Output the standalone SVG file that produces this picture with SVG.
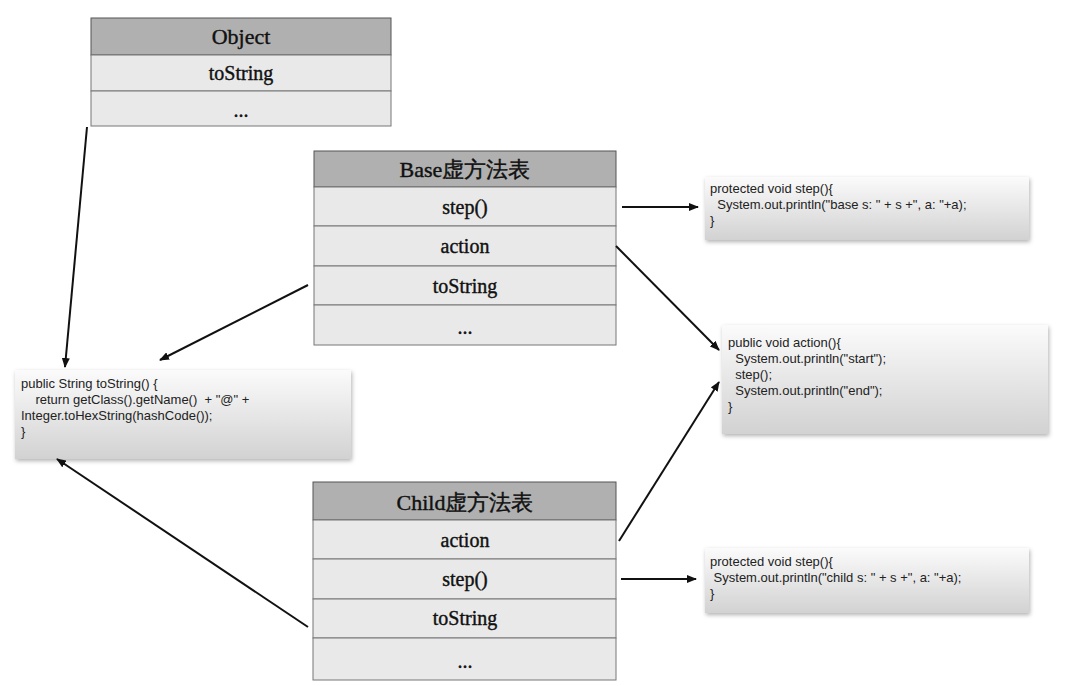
<svg xmlns="http://www.w3.org/2000/svg" width="1081" height="686" viewBox="0 0 1081 686">
<defs>
<linearGradient id="g" x1="0" y1="0" x2="0" y2="1"><stop offset="0" stop-color="#fbfbfb"/><stop offset="1" stop-color="#d2d2d2"/></linearGradient>
<filter id="sh" x="-5%" y="-10%" width="115%" height="130%"><feDropShadow dx="1" dy="2" stdDeviation="2" flood-color="#000" flood-opacity="0.3"/></filter>
<marker id="a" markerWidth="10" markerHeight="8" refX="9" refY="4" orient="auto" markerUnits="userSpaceOnUse"><path d="M0,0 L10,4 L0,8z" fill="#111"/></marker>
</defs>
<style>
.h{fill:#b0b0b0;stroke:#555;stroke-width:1}
.r{fill:#e9e9e9;stroke:#777;stroke-width:1}
.t{font-family:"Liberation Serif",serif;font-size:20px;fill:#111;stroke:#111;stroke-width:0.4;text-anchor:middle}
.th{font-size:22px}
.cb{fill:url(#g);filter:url(#sh)}
.c{font-family:"Liberation Sans",Arial,sans-serif;font-size:13px;fill:#222;white-space:pre}
.l{stroke:#111;stroke-width:2;fill:none;marker-end:url(#a)}
</style>
<rect width="1081" height="686" fill="#fff"/>
<g id="object">
<rect class="h" x="91" y="18" width="300" height="37"/><rect class="r" x="91" y="55" width="300" height="36"/><rect class="r" x="91" y="91" width="300" height="35"/>
<text class="t th" x="241" y="44">Object</text><text class="t" x="241" y="80">toString</text><text class="t" x="241" y="117">...</text>
</g>
<g id="base">
<rect class="h" x="314" y="151" width="302" height="36"/><rect class="r" x="314" y="187" width="302" height="39"/><rect class="r" x="314" y="226" width="302" height="40"/><rect class="r" x="314" y="266" width="302" height="39"/><rect class="r" x="314" y="305" width="302" height="40"/>
<text class="t th" x="465" y="177">Base虚方法表</text><text class="t" x="465" y="214">step()</text><text class="t" x="465" y="253">action</text><text class="t" x="465" y="293">toString</text><text class="t" x="465" y="334">...</text>
</g>
<g id="child">
<rect class="h" x="313" y="482" width="303" height="38"/><rect class="r" x="313" y="520" width="303" height="39"/><rect class="r" x="313" y="559" width="303" height="40"/><rect class="r" x="313" y="599" width="303" height="39"/><rect class="r" x="313" y="638" width="303" height="42"/>
<text class="t th" x="465" y="510">Child虚方法表</text><text class="t" x="465" y="547">action</text><text class="t" x="465" y="586">step()</text><text class="t" x="465" y="625">toString</text><text class="t" x="465" y="668">...</text>
</g>
<g id="objToString">
<rect class="cb" x="15" y="370" width="336" height="89"/>
<text class="c" x="21" y="388" xml:space="preserve">public String toString() {</text>
<text class="c" x="21" y="404" xml:space="preserve">    return getClass().getName()  + "@" +</text>
<text class="c" x="21" y="420" xml:space="preserve">Integer.toHexString(hashCode());</text>
<text class="c" x="21" y="436">}</text>
</g>
<g id="baseStep">
<rect class="cb" x="705" y="177" width="324" height="63"/>
<text class="c" x="710" y="193" xml:space="preserve">protected void step(){</text>
<text class="c" x="710" y="209" xml:space="preserve">  System.out.println("base s: " + s +", a: "+a);</text>
<text class="c" x="710" y="225">}</text>
</g>
<g id="action">
<rect class="cb" x="722" y="325" width="326" height="109"/>
<text class="c" x="728" y="347" xml:space="preserve">public void action(){</text>
<text class="c" x="728" y="363" xml:space="preserve">  System.out.println("start");</text>
<text class="c" x="728" y="379" xml:space="preserve">  step();</text>
<text class="c" x="728" y="395" xml:space="preserve">  System.out.println("end");</text>
<text class="c" x="728" y="411">}</text>
</g>
<g id="childStep">
<rect class="cb" x="705" y="548" width="324" height="65"/>
<text class="c" x="710" y="566" xml:space="preserve">protected void step(){</text>
<text class="c" x="710" y="582" xml:space="preserve"> System.out.println("child s: " + s +", a: "+a);</text>
<text class="c" x="710" y="598">}</text>
</g>
<g id="connectors">
<line class="l" x1="87" y1="127" x2="65" y2="367"/>
<line class="l" x1="308" y1="285" x2="160" y2="360"/>
<line class="l" x1="622" y1="207" x2="698" y2="207"/>
<line class="l" x1="616" y1="246" x2="719" y2="350"/>
<line class="l" x1="619" y1="541" x2="719" y2="382"/>
<line class="l" x1="621" y1="579" x2="696" y2="579"/>
<line class="l" x1="308" y1="627" x2="57" y2="459"/>
</g>
</svg>
